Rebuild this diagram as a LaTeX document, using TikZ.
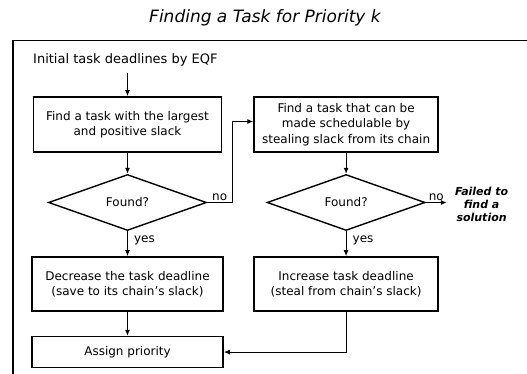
\documentclass[tikz,border=0pt]{standalone}
\usepackage{fontspec}
\setmainfont{DejaVu Sans}
\usetikzlibrary{positioning,calc,shapes.geometric,arrows.meta}

\tikzset{
	box/.style={draw, line width=1.6pt, minimum width=188pt, minimum height=55pt, align=center, inner sep=2pt, font=\fontsize{12}{15.5}\selectfont},
	test/.style={diamond, draw, line width=1.4pt, minimum width=158pt, minimum height=56pt, inner sep=0pt, font=\fontsize{12}{14}\selectfont},
	flow/.style={line width=1.1pt, -{Latex[length=6pt,width=5pt]}},
	lbl/.style={font=\fontsize{12}{14}\selectfont, inner sep=1pt},
}

\begin{document}
\begin{tikzpicture}[x=1pt,y=-1pt]
		\useasboundingbox (0,0) rectangle (527,374);
		\node[font=\fontsize{17}{19}\selectfont\itshape] (title) at (265,18) {Finding a Task for Priority k};
		\draw[line width=1.8pt] (13,374) -- (13,40.5) -- (527,40.5);
		%
		\node[lbl, font=\fontsize{13}{15}\selectfont, anchor=west] (init) at (32,60) {Initial task deadlines by EQF};
		\node[box] (findpos) at (127.5,124.5) {Find a task with the largest\\and positive slack};
		\node[box, minimum width=184pt, right=31pt of findpos] (steal) {Find a task that can be\\made schedulable by\\stealing slack from its chain};
		\node[test, below=21pt of findpos] (found1) {Found?};
		\node[test, below=21pt of steal] (found2) {Found?};
		\node[box, minimum width=191pt, minimum height=54pt, below=25pt of found1] (decrease) {Decrease the task deadline\\(save to its chain's slack)};
		\node[box, minimum width=184pt, minimum height=54pt, below=25pt of found2] (increase) {Increase task deadline\\(steal from chain's slack)};
		\node[box, minimum width=191pt, minimum height=31pt, below=24pt of decrease] (assign) {Assign priority};
		\coordinate (fail) at ($(found2.east)+(21,0)$);
		\node[font=\fontsize{11}{13}\selectfont\bfseries\itshape, align=center, anchor=west, inner sep=0pt] (failed) at ($(fail)+(8,2)$) {Failed to\\find a\\solution};
		%
		\draw[flow, shorten <=6pt] (findpos.north |- init.south) -- (findpos.north);
		\draw[flow] (findpos) -- (found1);
		\draw[flow] (found1.east) -- node[lbl, above]{no} ++(25,0) |- ($(steal.west)+(0,-3)$);
		\draw[flow] (steal) -- (found2);
		\draw[flow] (found2.east) -- node[lbl, above]{no} (fail);
		\draw[flow] (found1.south) -- node[lbl, right, pos=0.35, xshift=5pt]{yes} (decrease.north);
		\draw[flow] (found2.south) -- node[lbl, right, pos=0.35, xshift=5pt]{yes} (increase.north);
		\draw[flow] (decrease) -- (assign);
		\draw[flow] (increase.south) |- (assign.east);
\end{tikzpicture}
\end{document}
